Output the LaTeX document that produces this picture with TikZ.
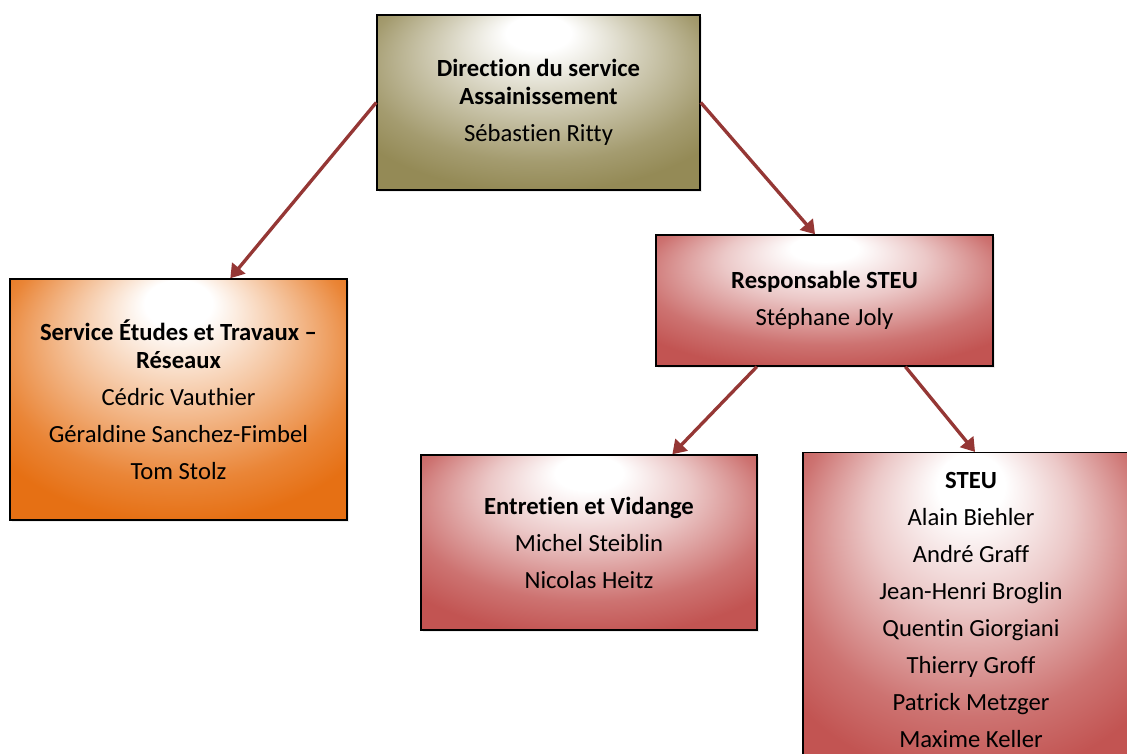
\documentclass[tikz,border=0pt]{standalone}
\usepackage{fontspec}
\setmainfont{Carlito}[Ligatures=NoCommon]
\usetikzlibrary{arrows.meta,calc,shadows}

\definecolor{olivefill}{RGB}{148,138,86}
\definecolor{orangefill}{RGB}{230,112,20}
\definecolor{redfill}{RGB}{194,84,82}
\definecolor{linkred}{RGB}{149,55,53}

\pgfdeclareradialshading{oliveshade}{\pgfpoint{0bp}{22bp}}{color(0bp)=(white); color(5bp)=(white); color(15bp)=(olivefill!40!white); color(27bp)=(olivefill!85!white); color(33bp)=(olivefill); color(50bp)=(olivefill)}
\pgfdeclareradialshading{orangeshade}{\pgfpoint{0bp}{22bp}}{color(0bp)=(white); color(5bp)=(white); color(15bp)=(orangefill!38!white); color(27bp)=(orangefill!85!white); color(33bp)=(orangefill); color(50bp)=(orangefill)}
\pgfdeclareradialshading{redshade}{\pgfpoint{0bp}{22bp}}{color(0bp)=(white); color(5bp)=(white); color(15bp)=(redfill!32!white); color(27bp)=(redfill!82!white); color(34bp)=(redfill); color(50bp)=(redfill)}

\tikzset{
  unit/.style={draw=black, line width=1.1pt, shade, align=center,
    inner sep=0pt, font=\fontsize{18.5pt}{21pt}\selectfont,
    drop shadow={shadow xshift=1.2pt, shadow yshift=-1.2pt, opacity=0.15}},
  link/.style={draw=linkred, line width=2.5pt,
    -{Triangle[length=10pt,width=12.5pt]}}
}

\begin{document}
\begin{tikzpicture}[%
        x=0.75pt,
        y=-0.75pt
        ]
        \useasboundingbox (0,0) rectangle (1127,753);
        \clip (0,0) rectangle (1127,753);

        \node[unit, shading=oliveshade, minimum width=242.25pt, minimum height=131.25pt] (dir) at (538.5,102.5)
            {\textbf{Direction du service}\\\textbf{Assainissement}\\[6.75pt]Sébastien Ritty};
        \node[unit, shading=orangeshade, minimum width=252.75pt, minimum height=180.75pt] (etudes) at (178.5,399.5)
            {\textbf{Service Études et Travaux –}\\\textbf{Réseaux}\\[6.75pt]Cédric Vauthier\\[6.75pt]Géraldine Sanchez-Fimbel\\[6.75pt]Tom Stolz};
        \node[unit, shading=redshade, minimum width=252.75pt, minimum height=98.25pt] (resp) at (824.5,300.5)
            {\textbf{Responsable STEU}\\[6.75pt]Stéphane Joly};
        \node[unit, shading=redshade, minimum width=252pt, minimum height=131.25pt] (vidange) at (589,542.5)
            {\textbf{Entretien et Vidange}\\[6.75pt]Michel Steiblin\\[6.75pt]Nicolas Heitz};
        \node[unit, shading=redshade, minimum width=252pt, minimum height=236pt] (steu) at (971,610)
            {\textbf{STEU}\\[6.75pt]Alain Biehler\\[6.75pt]André Graff\\[6.75pt]Jean-Henri Broglin\\[6.75pt]Quentin Giorgiani\\[6.75pt]Thierry Groff\\[6.75pt]Patrick Metzger\\[6.75pt]Maxime Keller};

        % links
        \draw[link] (dir.west) -- ($(etudes.north west)!0.653!(etudes.north east)$);
        \draw[link] (dir.east) -- ($(resp.north west)!0.472!(resp.north east)$);
        \draw[link] ($(resp.south west)!0.30!(resp.south east)$) -- ($(vidange.north west)!0.747!(vidange.north east)$);
        \draw[link] ($(resp.south west)!0.739!(resp.south east)$) -- ($(steu.north west)!0.512!(steu.north east)$);
\end{tikzpicture}
\end{document}
